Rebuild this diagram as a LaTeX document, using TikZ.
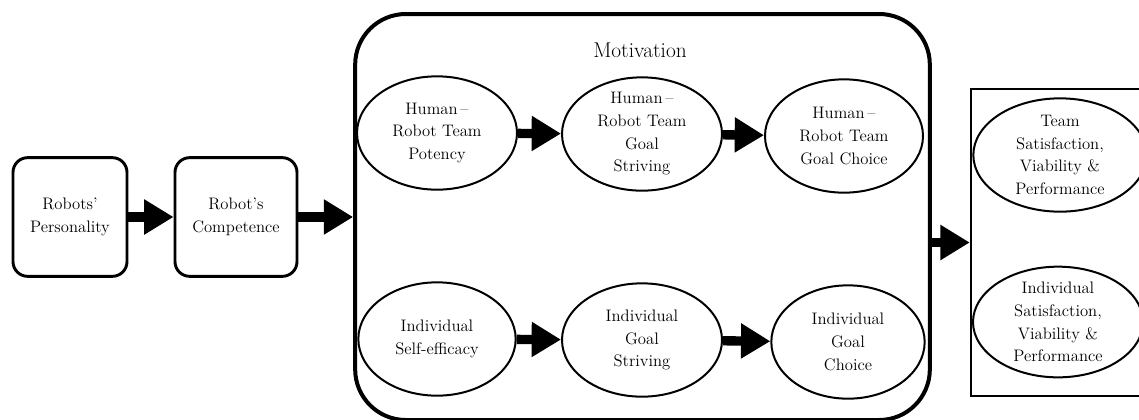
\documentclass[tikz,border=0pt]{standalone}
\usetikzlibrary{arrows.meta,shapes.geometric}

\tikzset{
  factor/.style={draw, rectangle, rounded corners=11pt, line width=2.2pt,
    minimum height=89pt, align=center, inner sep=2pt},
  frame/.style={draw, rectangle, rounded corners=38pt, line width=3pt},
  stage/.style={draw, ellipse, line width=1.5pt, minimum width=120pt,
    minimum height=85pt, inner sep=-2.5pt, align=center},
  outbox/.style={draw, rectangle, line width=1.8pt},
  blockarrow/.style={line width=7pt, -{Triangle[length=22pt,width=25pt]}}
}

\begin{document}
\begin{tikzpicture}[x=0.75pt, y=-0.75pt, font=\fontsize{12.5}{17}\selectfont]
  \useasboundingbox (0,0) rectangle (1139,419);

  % inputs
  \node[factor, minimum width=85.5pt] (personality) at (70,217) {Robots'\\Personality};
  \node[factor, minimum width=91.5pt] (competence) at (236,217) {Robot's\\Competence};

  % motivation block
  \node[frame, minimum width=431pt, minimum height=304.5pt] (motivation) at (642.5,217) {};
  \node[font=\fontsize{16}{18}\selectfont] (motivtitle) at (640,50) {Motivation};

  \node[stage] (teampotency) at (437,133) {Human\,--\\Robot Team\\Potency};
  \node[stage] (teamstriving) at (642,134) {Human\,--\\Robot Team\\Goal\\Striving};
  \node[stage, minimum width=118.5pt] (teamchoice) at (844,136) {Human\,--\\Robot Team\\Goal Choice};

  \node[stage, minimum width=118pt] (selfefficacy) at (437,339) {Individual\\Self-efficacy};
  \node[stage] (indstriving) at (642,340) {Individual\\Goal\\Striving};
  \node[stage, minimum width=115pt] (indchoice) at (848,342) {Individual\\Goal\\Choice};

  % outcomes
  \node[outbox, minimum width=133.5pt, minimum height=230pt] (outcomes) at (1060,242.5) {};
  \node[stage, minimum width=130pt] (teamout) at (1060,155) {Team\\Satisfaction,\\Viability \&\\Performance};
  \node[stage, minimum width=127.5pt, minimum height=83pt] (indout) at (1058,322) {Individual\\Satisfaction,\\Viability \&\\Performance};

  % arrows
  \draw[blockarrow] (personality) -- (competence);
  \draw[blockarrow] (competence) -- (motivation.west);
  \draw[blockarrow] (teampotency) -- (teamstriving);
  \draw[blockarrow] (teamstriving) -- (teamchoice);
  \draw[blockarrow] (selfefficacy) -- (indstriving);
  \draw[blockarrow] (indstriving) -- (indchoice);
  \draw[blockarrow] (motivation.east |- outcomes.west) -- (outcomes.west);
\end{tikzpicture}
\end{document}
